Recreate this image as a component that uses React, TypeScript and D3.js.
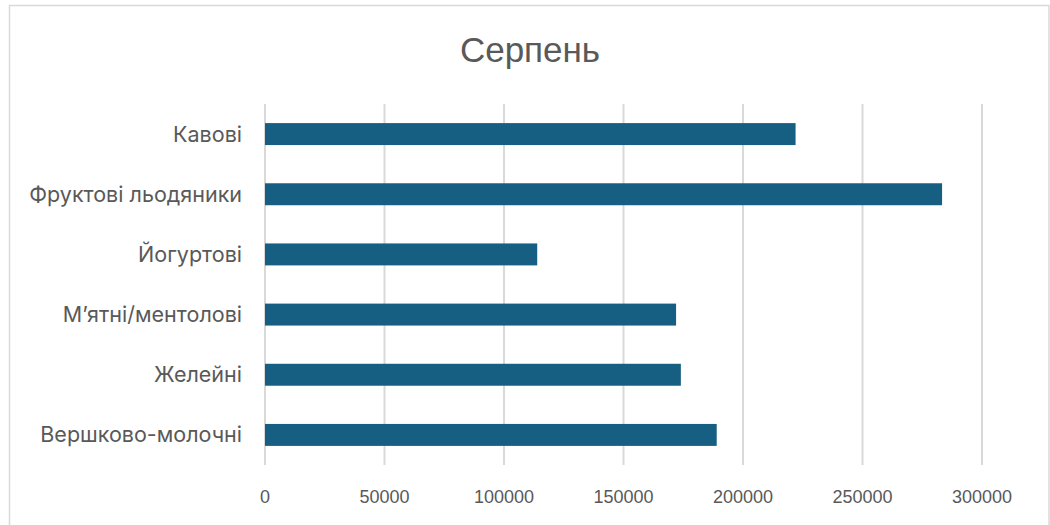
import React from "react";
import * as d3 from "d3";

const title = "Серпень";
const categories = [
  "Кавові",
  "Фруктові льодяники",
  "Йогуртові",
  "М’ятні/ментолові",
  "Желейні",
  "Вершково-молочні",
];
const values = [222000, 283300, 113900, 172000, 174000, 189000];
const xTicks = [0, 50000, 100000, 150000, 200000, 250000, 300000];

const W = 1050;
const H = 525;
const plot = { left: 265, right: 982, top: 104, bottom: 465 };

export default function App() {
  const x = d3.scaleLinear().domain([0, 300000]).range([plot.left, plot.right]);
  const y = d3
    .scaleBand<string>()
    .domain(categories)
    .range([plot.top, plot.bottom])
    .paddingInner(0.635)
    .paddingOuter(0.3175);
  const textColor = "#595959";
  const grid = "#d9d9d9";
  return (
    <div style={{ position: "absolute", left: 0, top: 0 }}>
      <svg width={W} height={H} style={{ display: "block", background: "#fff" }}>
        <rect x={9.5} y={5.5} width={1039.5} height={540} fill="#fff" stroke={grid} strokeWidth={1.5} />
        <text
          x={530}
          y={62}
          textAnchor="middle"
          fontFamily="'Liberation Sans', Arial, sans-serif"
          fontSize={35}
          fill={textColor}
        >
          {title}
        </text>
        {xTicks.map((t) => (
          <line key={"g" + t} x1={x(t)} x2={x(t)} y1={plot.top} y2={plot.bottom} stroke={grid} strokeWidth={2} />
        ))}
        {categories.map((c, i) => (
          <rect
            key={c}
            x={x(0)}
            y={y(c)!}
            width={x(values[i]) - x(0)}
            height={y.bandwidth()}
            fill="#175f82"
          />
        ))}
        {categories.map((c) => (
          <text
            key={"l" + c}
            x={242}
            y={y(c)! + y.bandwidth() / 2}
            dy="0.35em"
            textAnchor="end"
            fontFamily="Inter, 'Noto Sans', sans-serif"
            fontSize={21.5}
            fill={textColor}
          >
            {c}
          </text>
        ))}
        {xTicks.map((t) => (
          <text
            key={"t" + t}
            x={x(t)}
            y={497}
            dy="0.35em"
            textAnchor="middle"
            fontFamily="'Liberation Sans', Arial, sans-serif"
            fontSize={18}
            fill={textColor}
          >
            {String(t)}
          </text>
        ))}
      </svg>
    </div>
  );
}
